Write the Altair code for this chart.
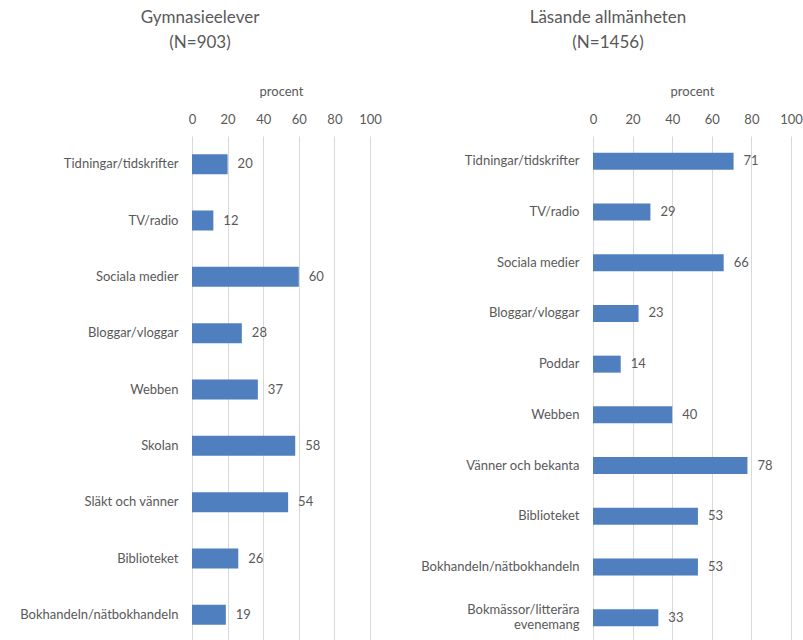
import altair as alt
import pandas as pd

left_cats = ["Tidningar/tidskrifter", "TV/radio", "Sociala medier", "Bloggar/vloggar",
             "Webben", "Skolan", "Släkt och vänner", "Biblioteket", "Bokhandeln/nätbokhandeln"]
left_vals = [20, 12, 60, 28, 37, 58, 54, 26, 19]

right_cats = ["Tidningar/tidskrifter", "TV/radio", "Sociala medier", "Bloggar/vloggar", "Poddar",
              "Webben", "Vänner och bekanta", "Biblioteket", "Bokhandeln/nätbokhandeln",
              "Bokmässor/litterära|evenemang"]
right_vals = [71, 29, 66, 23, 14, 40, 78, 53, 53, 33]

x_ticks = [0, 20, 40, 60, 80, 100]

FONT = "Lato"
GREY = "#595959"
BAR = "#4F7FBE"


def panel(cats, vals, title_lines, width, bar_size, title_dx):
    df = pd.DataFrame({"cat": cats, "val": vals})
    y = alt.Y("cat:N", sort=cats, title=None,
              scale=alt.Scale(paddingInner=0, paddingOuter=0),
              axis=alt.Axis(labelExpr="split(datum.label, '|')", labelFont=FONT,
                            labelFontSize=13, labelColor=GREY, labelPadding=14,
                            labelOffset={"condition": {"test": "indexof(datum.value, '|') >= 0",
                                                       "value": -8}, "value": 0},
                            ticks=False, domain=False, labelLimit=300))
    x = alt.X("val:Q", title="procent",
              scale=alt.Scale(domain=[0, 100], nice=False),
              axis=alt.Axis(orient="top", values=x_ticks, grid=True, gridColor="#d9d9d9",
                            ticks=False, domain=False, labelFont=FONT, labelFontSize=13,
                            labelColor=GREY, labelPadding=10, labelOverlap=False,
                            labelFlush=False, titleFont=FONT,
                            titleFontSize=13, titleColor=GREY, titleFontWeight="normal",
                            titlePadding=15))
    bars = alt.Chart(df).mark_bar(size=bar_size, color=BAR).encode(x=x, y=y)
    text = alt.Chart(df).mark_text(align="left", dx=10, font=FONT, fontSize=13,
                                   color=GREY).encode(x=x, y=y, text="val:Q")
    return (bars + text).properties(
        width=width, height=507,
        title=alt.TitleParams(title_lines, font=FONT, fontSize=17, color=GREY,
                              fontWeight="normal", anchor="middle", dx=title_dx,
                              offset=33, lineHeight=25))


left = panel(left_cats, left_vals, ["Gymnasieelever", "(N=903)"], 178, 20, -81)
right = panel(right_cats, right_vals, ["Läsande allmänheten", "(N=1456)"], 198, 17, -84)

chart = alt.hconcat(left, right, spacing=223, bounds="flush").properties(
    padding={"left": 19, "top": 9, "right": 0, "bottom": 0},
    background="white",
).configure_view(stroke=None)

chart.save("out.html", embed_options={"renderer": "svg", "actions": False})
